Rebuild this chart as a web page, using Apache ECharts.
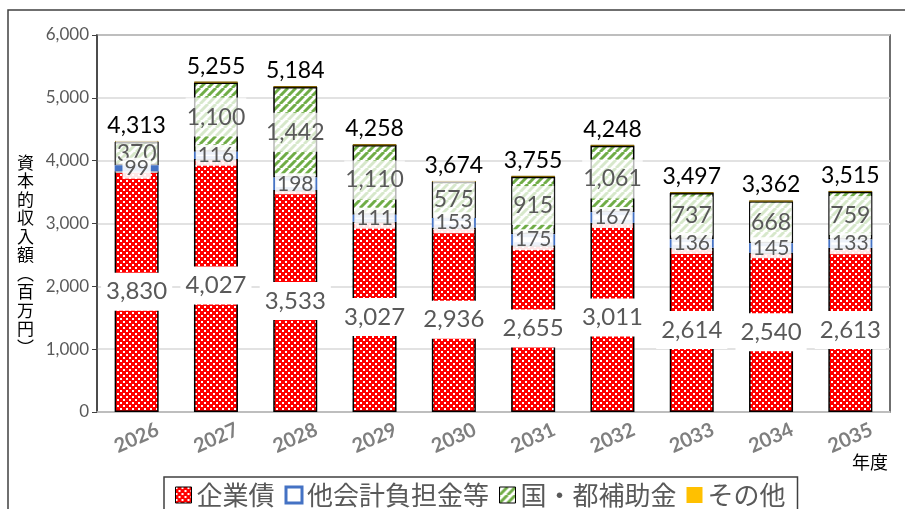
<!DOCTYPE html>
<html>
<head>
<meta charset="utf-8">
<script src="https://cdn.jsdelivr.net/npm/echarts@6/dist/echarts.min.js"></script>
<style>
  html, body { margin: 0; padding: 0; background: #fff; }
  #main { width: 905px; height: 509px; }
</style>
</head>
<body>
<div id="main"></div>
<script>
const years = ['2026', '2027', '2028', '2029', '2030', '2031', '2032', '2033', '2034', '2035']
const bonds = [3830, 4027, 3533, 3027, 2936, 2655, 3011, 2614, 2540, 2613]
const otherAccounts = [99, 116, 198, 111, 153, 175, 167, 136, 145, 133]
const subsidies = [370, 1100, 1442, 1110, 575, 915, 1061, 737, 668, 759]
const others = [14, 12, 11, 10, 10, 10, 9, 10, 9, 10]
const totals = [4313, 5255, 5184, 4258, 3674, 3755, 4248, 3497, 3362, 3515]

const NUM_FONT = 'Lato, "Noto Sans CJK JP", sans-serif'
const JP_FONT = '"Noto Sans CJK JP", sans-serif'
const GRAY = '#595959'
const fmt = v => v.toLocaleString('en-US')

// red checker with white dots
const makeChecker = () => {
  const c = document.createElement('canvas')
  c.width = 6
  c.height = 6
  const ctx = c.getContext('2d')
  ctx.fillStyle = '#ff0000'
  ctx.fillRect(0, 0, 6, 6)
  ctx.fillStyle = '#ffffff'
  ctx.fillRect(0, 0, 2, 2)
  ctx.fillRect(3, 3, 2, 2)
  return c
}

// green wide upward diagonal
const makeHatch = () => {
  const s = 8
  const c = document.createElement('canvas')
  c.width = s
  c.height = s
  const ctx = c.getContext('2d')
  ctx.fillStyle = '#ffffff'
  ctx.fillRect(0, 0, s, s)
  ctx.strokeStyle = '#70ad47'
  ctx.lineWidth = 3
  for (let k = -1; k <= 1; k++) {
    ctx.beginPath()
    ctx.moveTo(k * s, s)
    ctx.lineTo(k * s + s, 0)
    ctx.stroke()
  }
  return c
}

const redFill = { image: makeChecker(), repeat: 'repeat' }
const greenFill = { image: makeHatch(), repeat: 'repeat' }

const chart = echarts.init(document.getElementById('main'), null, { renderer: 'canvas' })

const option = {
  animation: false,
  textStyle: { fontFamily: NUM_FONT },
  grid: {
    left: 97, right: 15, top: 35, bottom: 97,
    show: true, borderColor: '#404040', borderWidth: 1.5
  },
  legend: {
    left: 164, top: 477,
    padding: [5, 12, 8, 11],
    borderColor: '#404040', borderWidth: 1.5,
    itemWidth: 16, itemHeight: 16, itemGap: 10,
    icon: 'rect',
    textStyle: { fontFamily: JP_FONT, fontSize: 26, color: GRAY },
    data: [
      { name: '企業債', itemStyle: { borderColor: '#000', borderWidth: 1 } },
      { name: '他会計負担金等', itemStyle: { color: '#fff', borderColor: '#4472c4', borderWidth: 3 } },
      { name: '国・都補助金', itemStyle: { borderColor: '#000', borderWidth: 1 } },
      { name: 'その他', itemStyle: { borderWidth: 0 } }
    ]
  },
  xAxis: {
    type: 'category',
    data: years,
    axisLine: { lineStyle: { color: '#bfbfbf', width: 1.5 } },
    axisTick: { show: false },
    axisLabel: {
      rotate: 24, align: 'center', verticalAlign: 'middle', margin: 26,
      fontFamily: NUM_FONT, fontWeight: 'bold', fontSize: 20, color: '#7f7f7f'
    }
  },
  yAxis: {
    type: 'value',
    min: 0, max: 6000, interval: 1000,
    axisLine: { show: true, lineStyle: { color: '#404040', width: 1.5 } },
    axisTick: { show: true, length: 5, lineStyle: { color: '#404040' } },
    axisLabel: { fontFamily: NUM_FONT, fontSize: 17, color: GRAY, margin: 8, formatter: v => fmt(v) },
    splitLine: { lineStyle: { color: '#d9d9d9', width: 1.5 } }
  },
  graphic: [
    {
      type: 'rect', silent: true,
      shape: { x: 8, y: 10, width: 1000, height: 600 },
      style: { fill: 'none', stroke: '#404040', lineWidth: 1.5 }
    },
    {
      type: 'text', left: 17, top: 153,
      style: {
        text: '資\n本\n的\n収\n入\n額\n︵\n百\n万\n円\n︶',
        font: '17px "Noto Sans CJK JP"', fill: '#000', lineHeight: 18.5
      }
    },
    {
      type: 'text', left: 852, top: 453,
      style: { text: '年度', font: '18px "Noto Sans CJK JP"', fill: '#000' }
    }
  ],
  series: [
    {
      name: '企業債', type: 'bar', stack: 'total', barWidth: 44,
      data: bonds,
      itemStyle: { color: redFill, borderColor: '#000', borderWidth: 1.5 },
      label: {
        show: true, position: 'inside', formatter: p => fmt(p.value),
        fontSize: 24, color: GRAY, backgroundColor: '#fff', padding: [7, 5]
      }
    },
    {
      name: '他会計負担金等', type: 'bar', stack: 'total', z: 3,
      data: otherAccounts,
      itemStyle: { color: '#fff', borderColor: '#4472c4', borderWidth: 3 },
      label: {
        show: true, position: 'inside', formatter: p => fmt(p.value),
        fontSize: 21, color: GRAY, backgroundColor: 'rgba(255,255,255,0.9)', padding: [0, 2]
      }
    },
    {
      name: '国・都補助金', type: 'bar', stack: 'total',
      data: subsidies,
      itemStyle: { color: greenFill, borderColor: '#000', borderWidth: 1.5 },
      label: {
        show: true, position: 'inside', formatter: p => fmt(p.value),
        fontSize: 23, color: GRAY, backgroundColor: 'rgba(255,255,255,0.72)', padding: [8, 1]
      }
    },
    {
      name: 'その他', type: 'bar', stack: 'total',
      data: others,
      itemStyle: { color: '#ffc000', borderColor: '#7f6000', borderWidth: 1 },
      label: {
        show: true, position: 'top', distance: 4,
        formatter: p => fmt(totals[p.dataIndex]),
        fontSize: 23, color: '#000'
      }
    }
  ]
}

chart.setOption(option)
</script>
</body>
</html>
